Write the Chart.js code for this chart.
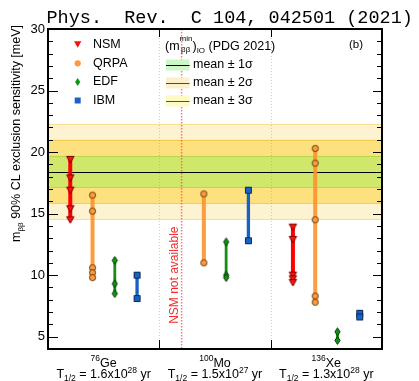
<!DOCTYPE html>
<html>
<head>
<meta charset="utf-8">
<script src="https://cdn.jsdelivr.net/npm/chart.js@4/dist/chart.umd.min.js"></script>
<style>
html,body{margin:0;padding:0;background:#fff;}
canvas{display:block;}
</style>
</head>
<body>
<canvas id="c" width="419" height="381"></canvas>
<script>
// ---------------- DATA ----------------
const isotopes = ['Ge', 'Mo', 'Xe'];
const massNumbers = ['76', '100', '136'];
const halfLifeMantissa = ['1.6', '1.5', '1.3'];
const halfLifeExponent = ['28', '27', '28'];
const models = ['NSM', 'QRPA', 'EDF', 'IBM'];

// sensitivities [meV], per isotope (Ge, Mo, Xe)
const nsmValues  = [[19.4, 17.9, 16.9, 15.4, 14.5], [], [13.9, 12.9, 10.0, 9.7, 9.4]];
const qrpaValues = [[16.5, 15.2, 10.6, 10.2, 9.8], [16.6, 11.0], [20.3, 19.1, 14.5, 8.3, 7.8]];
const edfValues  = [[11.2, 9.3, 8.5], [12.7, 10.0, 9.8], [5.4, 4.7]];
const ibmValues  = [[10.0, 8.1], [16.9, 12.8], [6.9, 6.6]];

const ioMean = 18.4;    // (m_bb^min)_IO mean
const ioSigma = 1.3;    // 1 sigma

const yTickValues = [5, 10, 15, 20, 25, 30];
const yMin = 4, yMax = 30;

// ---------------- STYLE ----------------
const FONT = "'Liberation Sans', Arial, Helvetica, sans-serif";
const styles = {
  NSM:  {kind: 'tri',     fill: '#ff1010', stroke: '#7a0000', line: '#ff0000', lw: 4},
  QRPA: {kind: 'circle',  fill: '#fb9a3e', stroke: '#6a3a08', line: 'rgba(252,146,46,0.9)', lw: 4},
  EDF:  {kind: 'diamond', fill: '#149414', stroke: '#063806', line: '#129012', lw: 2.8},
  IBM:  {kind: 'square',  fill: '#1664c8', stroke: '#0a2850', line: '#1462c4', lw: 3.3}
};

function drawMarker(g, kind, x, y, fill, stroke) {
  g.beginPath();
  if (kind === 'tri') {
    g.moveTo(x - 3.7, y - 3.1); g.lineTo(x + 3.7, y - 3.1); g.lineTo(x, y + 3.5); g.closePath();
  } else if (kind === 'circle') {
    g.arc(x, y, 3.1, 0, Math.PI * 2);
  } else if (kind === 'diamond') {
    g.moveTo(x, y - 3.9); g.lineTo(x + 2.6, y); g.lineTo(x, y + 3.9); g.lineTo(x - 2.6, y); g.closePath();
  } else {
    g.rect(x - 3, y - 3, 6, 6);
  }
  g.fillStyle = fill; g.fill();
  if (stroke) { g.lineWidth = 1; g.strokeStyle = stroke; g.stroke(); }
}

function markerCanvas(st) {
  const c = document.createElement('canvas');
  c.width = 11; c.height = 11;
  drawMarker(c.getContext('2d'), st.kind, 5.5, 5.5, st.fill, st.stroke);
  return c;
}

const valuesByModel = {NSM: nsmValues, QRPA: qrpaValues, EDF: edfValues, IBM: ibmValues};

// x position: category c spans [5c, 5c+5]; model i at 5c + i + 1
function buildData(model) {
  const mi = models.indexOf(model);
  const out = [];
  valuesByModel[model].forEach((vals, c) => {
    const x = 5 * c + mi + 1;
    vals.forEach(v => out.push({x: x, y: v}));
    out.push({x: x, y: null});
  });
  return out;
}

const datasets = models.map(m => {
  const st = styles[m];
  const img = markerCanvas(st);
  return {
    label: m,
    data: buildData(m),
    showLine: true,
    spanGaps: false,
    borderColor: st.line,
    borderWidth: st.lw,
    backgroundColor: st.fill,
    pointStyle: img,
    pointRadius: 4,
    pointHoverRadius: 4
  };
});

function txt(ctx, s, x, y, size, opts) {
  opts = opts || {};
  ctx.font = (opts.family ? size + 'px ' + opts.family : size + 'px ' + FONT);
  ctx.fillStyle = opts.color || '#000';
  ctx.textAlign = opts.align || 'left';
  ctx.textBaseline = opts.baseline || 'alphabetic';
  ctx.fillText(s, x, y);
  return ctx.measureText(s).width;
}
function w(ctx, s, size) { ctx.font = size + 'px ' + FONT; return ctx.measureText(s).width; }

const custom = {
  id: 'custom',
  beforeDatasetsDraw(chart) {
    const ctx = chart.ctx, a = chart.chartArea;
    const xs = chart.scales.x, ys = chart.scales.y;
    ctx.save();
    const bands = [
      {n: 3, fill: '#fdf3d0', edge: 'rgba(246,214,120,0.7)'},
      {n: 2, fill: '#fee17f', edge: 'rgba(240,196,60,0.7)'},
      {n: 1, fill: '#cfe86c', edge: 'rgba(175,205,70,0.7)'}
    ];
    bands.forEach(b => {
      const yt = ys.getPixelForValue(ioMean + b.n * ioSigma);
      const yb = ys.getPixelForValue(ioMean - b.n * ioSigma);
      ctx.fillStyle = b.fill;
      ctx.fillRect(a.left, yt, a.right - a.left, yb - yt);
      ctx.strokeStyle = b.edge; ctx.lineWidth = 1;
      ctx.beginPath();
      ctx.moveTo(a.left, Math.round(yt) + 0.5); ctx.lineTo(a.right, Math.round(yt) + 0.5);
      ctx.moveTo(a.left, Math.round(yb) - 0.5); ctx.lineTo(a.right, Math.round(yb) - 0.5);
      ctx.stroke();
    });
    // dotted category dividers
    ctx.strokeStyle = 'rgba(150,150,150,0.45)'; ctx.lineWidth = 1;
    ctx.setLineDash([1, 2]);
    [5, 10].forEach(v => {
      const x = Math.round(xs.getPixelForValue(v)) + 0.5;
      ctx.beginPath(); ctx.moveTo(x, a.top); ctx.lineTo(x, a.bottom); ctx.stroke();
    });
    // mean line
    ctx.setLineDash([]);
    ctx.strokeStyle = '#000'; ctx.lineWidth = 1;
    const ym = Math.round(ys.getPixelForValue(ioMean)) + 0.5;
    ctx.beginPath(); ctx.moveTo(a.left, ym); ctx.lineTo(a.right, ym); ctx.stroke();
    // NSM not available (Mo, NSM slot x=6)
    const xn = xs.getPixelForValue(6);
    ctx.strokeStyle = 'rgba(240,80,80,0.75)'; ctx.lineWidth = 1.5;
    ctx.setLineDash([1.5, 1.5]);
    ctx.beginPath(); ctx.moveTo(xn, a.top); ctx.lineTo(xn, a.bottom); ctx.stroke();
    ctx.setLineDash([]);
    ctx.save();
    ctx.translate(xn - 6.5, ys.getPixelForValue(10));
    ctx.rotate(-Math.PI / 2);
    txt(ctx, 'NSM not available', 0, 0, 12, {color: '#f42a2a', align: 'center', baseline: 'middle'});
    ctx.restore();
    ctx.restore();
  },
  afterDraw(chart) {
    const ctx = chart.ctx, a = chart.chartArea;
    const xs = chart.scales.x, ys = chart.scales.y;
    ctx.save();
    // ticks
    ctx.strokeStyle = '#000'; ctx.lineWidth = 1;
    ctx.beginPath();
    for (let v = yMin + 1; v < yMax; v++) {
      const y = Math.round(ys.getPixelForValue(v)) + 0.5;
      const major = v % 5 === 0;
      const L = major ? 10 : 5, R = major ? 9 : 5;
      ctx.moveTo(a.left, y); ctx.lineTo(a.left + L, y);
      ctx.moveTo(a.right, y); ctx.lineTo(a.right - R, y);
    }
    [5, 10].forEach(v => {
      const x = Math.round(xs.getPixelForValue(v)) + 0.5;
      ctx.moveTo(x, a.bottom); ctx.lineTo(x, a.bottom - 9);
      ctx.moveTo(x, a.top); ctx.lineTo(x, a.top + 8);
    });
    ctx.stroke();
    // frame
    ctx.lineWidth = 2;
    ctx.strokeRect(a.left, a.top, a.right - a.left, a.bottom - a.top);

    // category labels
    isotopes.forEach((iso, c) => {
      const cx = xs.getPixelForValue(5 * c + 2.5);
      const b1 = 366.5, b2 = 378.3;
      const w1 = w(ctx, massNumbers[c], 8.5) + w(ctx, iso, 12.5);
      let x = cx - w1 / 2;
      x += txt(ctx, massNumbers[c], x, b1 - 5.5, 8.5);
      txt(ctx, iso, x, b1, 12.5);
      const parts = [
        ['T', 12.5, 0], ['1/2', 8.5, 3], [' = ' + halfLifeMantissa[c] + 'x10', 12.5, 0],
        [halfLifeExponent[c], 8.5, -5.5], [' yr', 12.5, 0]
      ];
      const w2 = parts.reduce((s, p) => s + w(ctx, p[0], p[1]), 0);
      x = cx - w2 / 2;
      parts.forEach(p => { x += txt(ctx, p[0], x, b2 + p[2], p[1]); });
    });

    // y-axis title (rotated, top-aligned)
    ctx.save();
    ctx.translate(15, 25);
    ctx.rotate(-Math.PI / 2);
    const rest = ' 90% CL exclusion sensitivity [meV]';
    const wm = w(ctx, 'm', 12.5), wb = w(ctx, '\u03b2\u03b2', 8), wr = w(ctx, rest, 12.5);
    let u = -(wm + wb + wr);
    u += txt(ctx, 'm', u, 4.5, 12.5);
    u += txt(ctx, '\u03b2\u03b2', u, 7.5, 8);
    txt(ctx, rest, u, 4.5, 12.5);
    ctx.restore();

    // legend: models
    const legY = [44.3, 63.3, 82, 100.5];
    models.forEach((m, i) => {
      const st = styles[m];
      drawMarker(ctx, st.kind, 77.7, legY[i], st.fill, null);
      txt(ctx, m, 93, legY[i], 12.5, {baseline: 'middle'});
    });
    // legend: IO band header
    let hx = 165;
    const hb = 49.5;
    hx += txt(ctx, '(m', hx, hb, 12.5);
    const wmin = w(ctx, 'min', 8);
    txt(ctx, 'min', hx, hb - 8.5, 8);
    txt(ctx, '\u03b2\u03b2', hx + 1.5, hb + 2.5, 8);
    hx += Math.max(wmin, w(ctx, '\u03b2\u03b2', 8) + 1.5);
    hx += txt(ctx, ')', hx, hb, 12.5);
    hx += txt(ctx, 'IO', hx, hb + 3, 8);
    txt(ctx, ' (PDG 2021)', hx, hb, 12.5);
    const sw = [
      {y: 65, fill: '#cdf7c8', line: '#000', lbl: 'mean \u00b1 1\u03c3'},
      {y: 83, fill: '#fcefcb', line: '#5a4628', lbl: 'mean \u00b1 2\u03c3'},
      {y: 101, fill: '#fdfac2', line: '#55552a', lbl: 'mean \u00b1 3\u03c3'}
    ];
    sw.forEach(s => {
      ctx.fillStyle = s.fill;
      ctx.fillRect(166, s.y - 5.5, 23.5, 11);
      ctx.strokeStyle = s.line; ctx.lineWidth = 1;
      ctx.beginPath(); ctx.moveTo(166, s.y + 0.5); ctx.lineTo(189.5, s.y + 0.5); ctx.stroke();
      txt(ctx, s.lbl, 193, s.y, 12.5, {baseline: 'middle'});
    });
    txt(ctx, '(b)', 349, 45, 11.5, {baseline: 'middle'});

    // journal reference on top
    txt(ctx, 'Phys.  Rev.  C 104, 042501 (2021)', 46.5, 22.5, 18.5, {family: "'Liberation Mono', 'DejaVu Sans Mono', monospace"});
    ctx.restore();
  }
};

new Chart(document.getElementById('c'), {
  type: 'scatter',
  data: {datasets: datasets},
  options: {
    responsive: false,
    devicePixelRatio: 1,
    animation: false,
    layout: {padding: {top: 29, right: 37, bottom: 0, left: 0}},
    plugins: {legend: {display: false}, tooltip: {enabled: false}, title: {display: false}},
    scales: {
      x: {
        type: 'linear', min: 0, max: 15,
        grid: {display: false, drawTicks: false},
        border: {display: false},
        ticks: {display: false},
        afterFit(s) { s.height = 32; }
      },
      y: {
        type: 'linear', min: yMin, max: yMax,
        afterBuildTicks(s) { s.ticks = yTickValues.map(v => ({value: v})); },
        grid: {display: false, drawTicks: false},
        border: {display: false},
        ticks: {color: '#000', padding: 3, font: {size: 13, family: FONT}},
        afterFit(s) { s.width = 48; }
      }
    }
  },
  plugins: [custom]
});
</script>
</body>
</html>
